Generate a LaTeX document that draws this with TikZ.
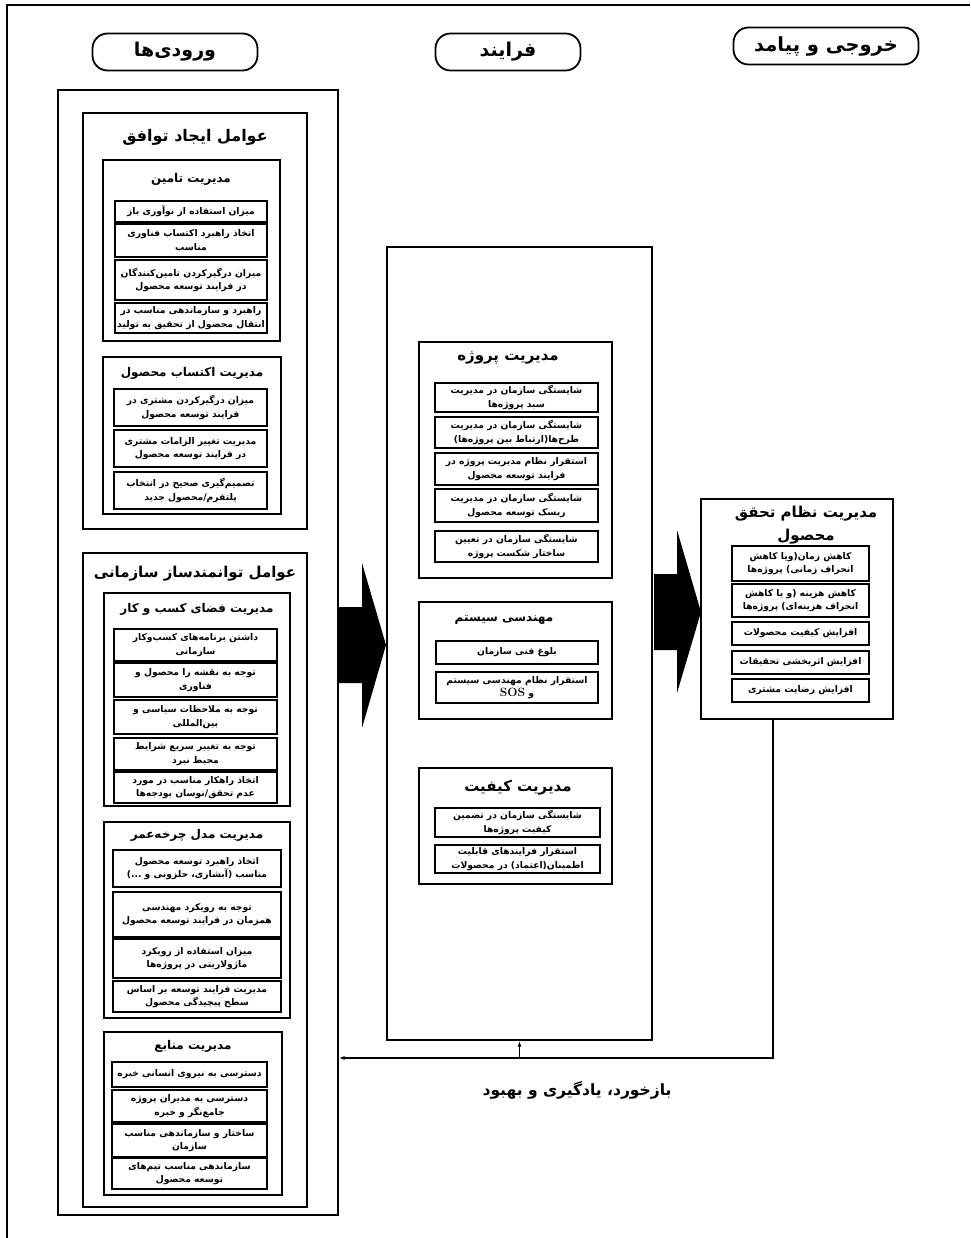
\documentclass[tikz,border=0pt]{standalone}
\usepackage{fontspec}
\usetikzlibrary{arrows.meta,fit,calc}
\TeXXeTstate=1
\newfontfamily\arabicfont[Script=Arabic]{DejaVu Sans}
\newcommand{\fa}[1]{\beginR #1\endR}

\begin{document}
\begin{tikzpicture}[x=1pt, y=-1pt,
    frame/.style={draw, line width=1.4pt, inner sep=0pt},
    box/.style={draw, line width=1.2pt, inner sep=0pt},
    item/.style={draw, line width=1.1pt, inner sep=0pt, align=center, font=\arabicfont\bfseries\fontsize{9.2}{13.5}\selectfont},
    pill/.style={draw, line width=1.8pt, rounded corners=15pt, minimum height=37pt, font=\arabicfont\bfseries\fontsize{19}{21}\selectfont},
    grouptitle/.style={font=\arabicfont\bfseries\fontsize{15.5}{22}\selectfont, align=center},
    subtitle/.style={font=\arabicfont\bfseries\fontsize{12}{14}\selectfont, align=center},
    fbline/.style={line width=1.5pt},
    fbarrow/.style={fbline, -{Latex[length=6pt,width=4pt]}}
]
    \useasboundingbox (0,0) rectangle (970,1238);

    % Marco
    \draw[line width=1.4pt] (970,5) -- (7,5) -- (7,1238);

    % Titulos de columnas
    \node[pill, minimum width=165pt] (hin)   at (175,52) {\fa{ورودی‌ها}};
    \node[pill, minimum width=145pt] (hproc) at (508,52) {\fa{فرایند}};
    \node[pill, minimum width=185pt, font=\arabicfont\bfseries\fontsize{19.5}{21}\selectfont] (hout) at (826,46) {\fa{خروجی و پیامد}};

    % --- ENTRADAS ---
    \node[frame, fit={(58,90)(338,1215)}] (inputs) {};

    % Grupo 1
    \node[box, fit={(83,113)(307,529)}] (g1) {};
    \node[grouptitle, font=\arabicfont\bfseries\fontsize{16}{22}\selectfont] (g1t) at (195,137) {\fa{عوامل ایجاد توافق}};

    \node[box, fit={(103,160)(280,341)}] (tamin) {};
    \node[subtitle] (tamint) at (191,179) {\fa{مدیریت تامین}};
    \foreach \ya/\yb/\txt [count=\i] in {
        201/222/{\fa{میزان استفاده از نوآوری باز}},
        224/257/{\fa{اتخاذ راهبرد اکتساب فناوری}\\\fa{مناسب}},
        260/300/{\fa{میزان درگیرکردن تامین‌کنندگان}\\\fa{در فرایند توسعه محصول}},
        303/333/{\fa{راهبرد و سازماندهی مناسب در}\\\fa{انتقال محصول از تحقیق به تولید}}}
        \node[item, minimum width=152pt, minimum height={\yb-\ya}] (tam\i) at (191,{(\ya+\yb)/2}) {\txt};

    \node[box, fit={(103,357)(281,514)}] (ektesab) {};
    \node[subtitle] (ektesabt) at (192,373) {\fa{مدیریت اکتساب محصول}};
    \foreach \ya/\yb/\txt [count=\i] in {
        389/426/{\fa{میزان درگیرکردن مشتری در}\\\fa{فرایند توسعه محصول}},
        430/467/{\fa{مدیریت تغییر الزامات مشتری}\\\fa{در فرایند توسعه محصول}},
        472/509/{\fa{تصمیم‌گیری صحیح در انتخاب}\\\fa{پلتفرم/محصول جدید}}}
        \node[item, minimum width=153pt, minimum height={\yb-\ya}] (ekt\i) at (190.5,{(\ya+\yb)/2}) {\txt};

    % Grupo 2
    \node[box, fit={(83,553)(307,1207)}] (g2) {};
    \node[grouptitle, font=\arabicfont\bfseries\fontsize{15}{22}\selectfont] (g2t) at (195,574) {\fa{عوامل توانمندساز سازمانی}};

    \node[box, fit={(104,593)(290,806)}] (fazaa) {};
    \node[subtitle] (fazaat) at (197,609) {\fa{مدیریت  فضای کسب و کار}};
    \foreach \ya/\yb/\txt [count=\i] in {
        629/661/{\fa{داشتن برنامه‌های کسب‌وکار}\\\fa{سازمانی}},
        663/697/{\fa{توجه به نقشه را محصول و}\\\fa{فناوری}},
        700/734/{\fa{توجه به ملاحظات سیاسی و}\\\fa{بین‌المللی}},
        738/770/{\fa{توجه به تغییر سریع شرایط}\\\fa{محیط نبرد}},
        772/803/{\fa{اتخاذ راهکار  مناسب در مورد}\\\fa{عدم تحقق/نوسان بودجه‌ها}}}
        \node[item, minimum width=163pt, minimum height={\yb-\ya}] (faz\i) at (195.5,{(\ya+\yb)/2}) {\txt};

    \node[box, fit={(104,822)(290,1018)}] (charkhe) {};
    \node[subtitle] (charkhet) at (197,835) {\fa{مدیریت مدل چرخه‌عمر}};
    \foreach \ya/\yb/\txt [count=\i] in {
        850/887/{\fa{اتخاذ راهبرد توسعه محصول}\\\fa{مناسب (آبشاری، حلزونی و ...)}},
        892/937/{\fa{توجه به رویکرد مهندسی}\\\fa{همزمان در فرایند توسعه محصول}},
        939/978/{\fa{میزان استفاده از رویکرد}\\\fa{ماژولاریتی در پروژه‌ها}},
        981/1012/{\fa{مدیریت فرایند توسعه بر اساس}\\\fa{سطح پیچیدگی محصول}}}
        \node[item, minimum width=168pt, minimum height={\yb-\ya}] (cha\i) at (197,{(\ya+\yb)/2}) {\txt};

    \node[box, fit={(104,1032)(282,1195)}] (manabe) {};
    \node[subtitle] (manabet) at (193,1046) {\fa{مدیریت منابع}};
    \foreach \ya/\yb/\txt [count=\i] in {
        1062/1087/{\fa{دسترسی به نیروی انسانی خبره}},
        1090/1122/{\fa{دسترسی به مدیران پروژه}\\\fa{جامع‌نگر و خبره}},
        1124/1157/{\fa{ساختار و سازماندهی مناسب}\\\fa{سازمان}},
        1158/1189/{\fa{سازماندهی مناسب تیم‌های}\\\fa{توسعه محصول}}}
        \node[item, minimum width=155pt, minimum height={\yb-\ya}] (man\i) at (189.5,{(\ya+\yb)/2}) {\txt};

    % --- PROCESO ---
    \node[frame, fit={(387,247)(652,1040)}] (process) {};

    \node[box, fit={(419,342)(612,578)}] (proj) {};
    \node[subtitle, font=\arabicfont\bfseries\fontsize{15}{18}\selectfont] (projt) at (508,358) {\fa{مدیریت پروژه}};
    \foreach \ya/\yb/\txt [count=\i] in {
        383/412/{\fa{شایستگی سازمان در مدیریت}\\\fa{سبد پروژه‌ها}},
        417/448/{\fa{شایستگی سازمان در مدیریت}\\\fa{طرح‌ها(ارتباط بین پروژه‌ها)}},
        453/485/{\fa{استقرار نظام مدیریت پروژه در}\\\fa{فرایند توسعه محصول}},
        489/522/{\fa{شایستگی سازمان در مدیریت}\\\fa{ریسک توسعه محصول}},
        531/562/{\fa{شایستگی سازمان در تعیین}\\\fa{ساختار شکست پروژه}}}
        \node[item, minimum width=163pt, minimum height={\yb-\ya}] (prj\i) at (516.5,{(\ya+\yb)/2}) {\txt};

    \node[box, fit={(419,602)(612,719)}] (sys) {};
    \node[subtitle] (syst) at (504,620) {\fa{مهندسی سیستم}};
    \foreach \ya/\yb/\txt [count=\i] in {
        641/664/{\fa{بلوغ فنی سازمان}},
        672/703/{\fa{استقرار نظام مهندسی سیستم}\\\fa{و \beginL{\rmfamily\bfseries\fontsize{12}{13}\selectfont SOS}\endL}}}
        \node[item, minimum width=162pt, minimum height={\yb-\ya}] (sys\i) at (517,{(\ya+\yb)/2}) {\txt};

    \node[box, fit={(419,768)(612,884)}] (qual) {};
    \node[subtitle, font=\arabicfont\bfseries\fontsize{15}{18}\selectfont] (qualt) at (518,788) {\fa{مدیریت کیفیت}};
    \foreach \ya/\yb/\txt [count=\i] in {
        808/837/{\fa{شایستگی سازمان در تضمین}\\\fa{کیفیت پروژه‌ها}},
        845/873/{\fa{استقرار فرایندهای قابلیت}\\\fa{اطمینان(اعتماد) در محصولات}}}
        \node[item, minimum width=165pt, minimum height={\yb-\ya}] (qua\i) at (517.5,{(\ya+\yb)/2}) {\txt};

    % --- SALIDA ---
    \node[frame, fit={(701,499)(893,719)}] (realize) {};
    \node[grouptitle, font=\arabicfont\bfseries\fontsize{15}{23}\selectfont] (realizet) at (806,525) {\fa{مدیریت نظام  تحقق}\\\fa{محصول}};
    \foreach \ya/\yb/\txt [count=\i] in {
        546/581/{\fa{کاهش زمان(ویا کاهش}\\\fa{انحراف زمانی) پروژه‌ها}},
        584/617/{\fa{کاهش هزینه (و یا کاهش}\\\fa{انحراف هزینه‌ای) پروژه‌ها}},
        622/645/{\fa{افزایش کیفیت محصولات}},
        651/674/{\fa{افزایش اثربخشی تحقیقات}},
        679/702/{\fa{افزایش رضایت مشتری}}}
        \node[item, minimum width=137pt, minimum height={\yb-\ya}] (out\i) at (800.5,{(\ya+\yb)/2}) {\txt};

    % Flechas grandes
    \fill (338,607) -- (362,607) -- (362,563) -- (386,645) -- (362,728) -- (362,683) -- (338,683) -- cycle;
    \fill (654,574) -- (677,574) -- (677,530) -- (701,612) -- (677,693) -- (677,650) -- (654,650) -- cycle;

    % Retroalimentacion
    \coordinate (fbstart) at ($(realize.south west)!0.375!(realize.south east)$);
    \coordinate (fbturn) at (773,1058);
    \draw[fbarrow] (fbstart) |- (inputs.east |- fbturn);
    \draw[fbarrow] (process.south |- fbturn) -- (process.south);
    \node[font=\arabicfont\bfseries\fontsize{15.5}{18}\selectfont] (fblabel) at (577,1090) {\fa{بازخورد، یادگیری و بهبود}};

\end{tikzpicture}
\end{document}
